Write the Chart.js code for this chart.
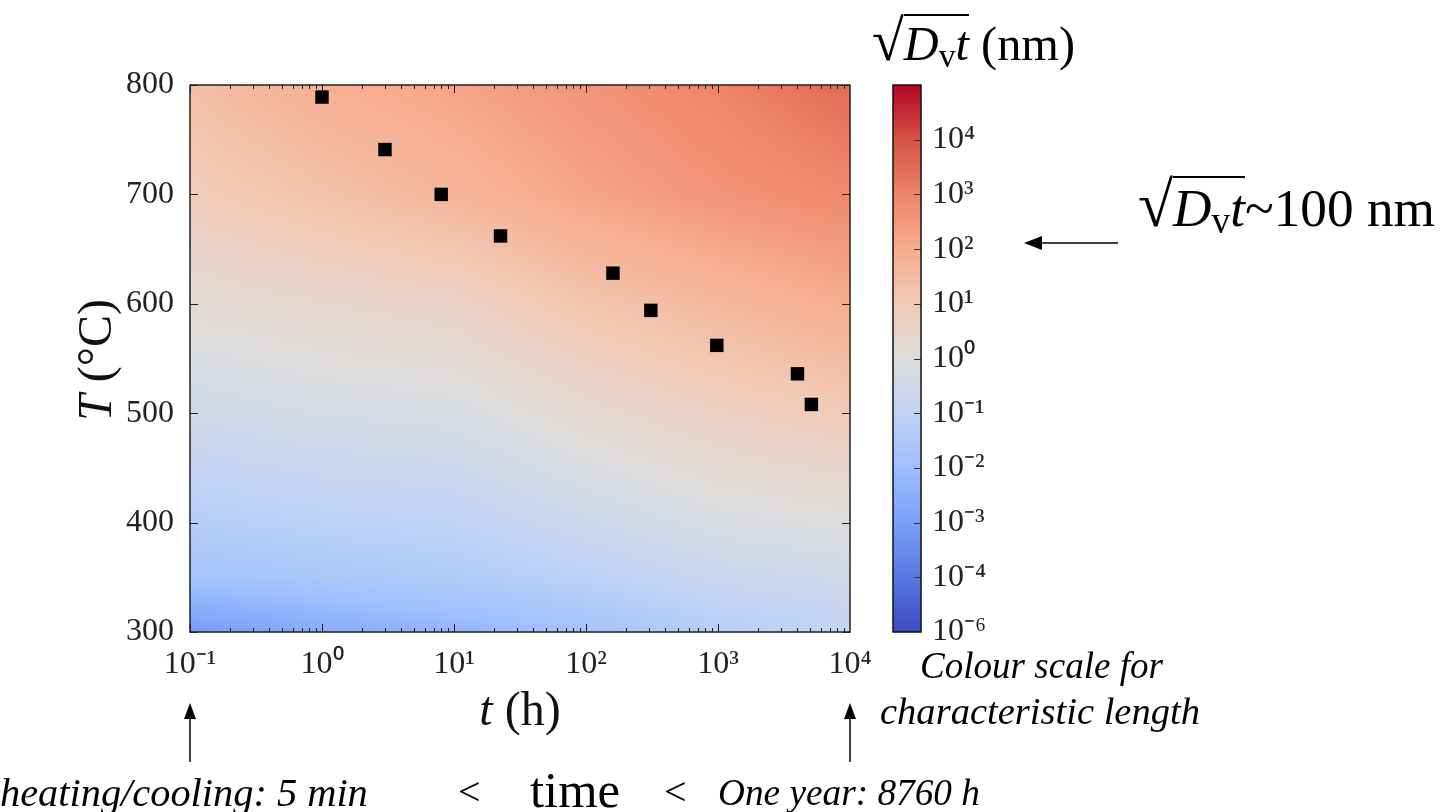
<!DOCTYPE html>
<html>
<head>
<meta charset="utf-8">
<script src="https://cdn.jsdelivr.net/npm/chart.js@4.4.0/dist/chart.umd.min.js"></script>
<style>
  html, body { margin: 0; padding: 0; background: #fff; }
  #wrap { position: relative; width: 1445px; height: 812px; overflow: hidden; }
  #main { position: absolute; left: 0; top: 0; }
  #cbar { position: absolute; left: 860px; top: 0; }
  .lbl { position: absolute; white-space: nowrap; font-family: "Liberation Serif", serif; color: #000; line-height: 1; }
  .it { font-style: italic; }
  .root { font-size: 1.2em; }
  .rad { border-top: 2px solid #000; padding-top: 1px; }
  sub { font-size: 0.7em; vertical-align: -0.2em; line-height: 0; }
</style>
</head>
<body>
<div id="wrap">
  <canvas id="main" width="1445" height="812"></canvas>
  <canvas id="cbar" width="200" height="812"></canvas>

  <div class="lbl" data-x="872" data-cy="41" data-w="203"><span class="root">√</span><span class="rad"><i>D</i><sub>v</sub><i>t</i></span> (nm)</div>
  <div class="lbl" data-x="1138" data-cy="205" data-w="297"><span class="root">√</span><span class="rad"><i>D</i><sub>v</sub><i>t</i></span>~100 nm</div>
  <div class="lbl it" data-x="920" data-cy="666" data-w="243">Colour scale for</div>
  <div class="lbl it" data-x="880" data-cy="711" data-w="320">characteristic length</div>
  <div class="lbl it" data-x="0" data-cy="793" data-w="368">heating/cooling: 5 min</div>
  <div class="lbl" data-x="458" data-cy="792" data-fs="40">&lt;</div>
  <div class="lbl" data-x="530" data-cy="790" data-w="90">time</div>
  <div class="lbl" data-x="664" data-cy="792" data-fs="40">&lt;</div>
  <div class="lbl it" data-x="718" data-cy="793" data-w="262">One year: 8760 h</div>
</div>

<script>
// annealing points
const hours = [1, 3, 8, 22.5, 160, 310, 980, 4000, 5100];
const tempsC = [789, 741, 700, 662, 628, 594, 562, 536, 508];

const xTickHours = [0.1, 1, 10, 100, 1000, 10000];
const yTickTemps = [300, 400, 500, 600, 700, 800];
const cbTickLabels = ['10⁻⁶', '10⁻⁴', '10⁻³', '10⁻²', '10⁻¹', '10⁰', '10¹', '10²', '10³', '10⁴'];

// background colour, as position on the colour bar (0 bottom .. 10 top)
const fieldHours = [0.1, 1, 10, 100, 1000, 10000];
const fieldTemps = [300, 350, 400, 500, 600, 700, 800];
const fieldLevels = [
  [1.9, 2.4, 2.7, 3.2, 3.7, 4.0],
  [3.2, 3.4, 3.6, 3.9, 4.3, 4.5],
  [3.7, 3.9, 4.0, 4.4, 4.8, 5.0],
  [4.5, 4.7, 4.8, 5.3, 5.7, 6.0],
  [5.2, 5.4, 5.6, 6.2, 6.6, 7.0],
  [5.9, 6.3, 6.7, 7.2, 7.6, 7.9],
  [6.4, 6.9, 7.2, 7.6, 8.0, 8.5]
];

// coolwarm colour map
const coolwarm = ['#3b4cc0', '#5977e3', '#7b9ff9', '#9ebeff', '#c0d4f5', '#dddcdc',
                  '#f2cbb7', '#f7ac8e', '#ee8468', '#d65244', '#b40426'].map(h => [
  parseInt(h.substr(1, 2), 16), parseInt(h.substr(3, 2), 16), parseInt(h.substr(5, 2), 16)]);

function levelColor(v) {
  let f = Math.max(0, Math.min(10, v));
  let i = Math.min(9, Math.floor(f));
  let t = f - i;
  let a = coolwarm[i], b = coolwarm[i + 1];
  return [a[0] + (b[0] - a[0]) * t, a[1] + (b[1] - a[1]) * t, a[2] + (b[2] - a[2]) * t];
}

const fieldLogs = fieldHours.map(h => Math.log10(h));
function seg(arr, v) {
  let i = 0;
  while (i < arr.length - 2 && v > arr[i + 1]) i++;
  let t = (v - arr[i]) / (arr[i + 1] - arr[i]);
  return [i, Math.max(0, Math.min(1, t))];
}
function fieldAt(lt, T) {
  const [i, u] = seg(fieldLogs, lt);
  const [j, w] = seg(fieldTemps, T);
  const r0 = fieldLevels[j], r1 = fieldLevels[j + 1];
  const a = r0[i] + (r0[i + 1] - r0[i]) * u;
  const b = r1[i] + (r1[i + 1] - r1[i]) * u;
  return a + (b - a) * w;
}

const supMap = {'-': '⁻', '0': '⁰', '1': '¹', '2': '²', '3': '³', '4': '⁴', '5': '⁵', '6': '⁶', '7': '⁷', '8': '⁸', '9': '⁹'};
function pow10Label(v) {
  const e = String(Math.round(Math.log10(v)));
  return '10' + e.split('').map(c => supMap[c]).join('');
}

const tickFont = { family: '"Liberation Serif", serif', size: 32 };

const heatmap = {
  id: 'heatmap',
  beforeDatasetsDraw(chart) {
    const { ctx, chartArea: a, scales: { x, y } } = chart;
    const left = Math.round(a.left), top = Math.round(a.top);
    const w = Math.round(a.right) - left, h = Math.round(a.bottom) - top;
    const img = ctx.createImageData(w, h);
    const logs = [];
    for (let i = 0; i < w; i++) logs.push(Math.log10(x.getValueForPixel(left + i + 0.5)));
    for (let j = 0; j < h; j++) {
      const T = y.getValueForPixel(top + j + 0.5);
      for (let i = 0; i < w; i++) {
        const c = levelColor(fieldAt(logs[i], T));
        const k = (j * w + i) * 4;
        img.data[k] = c[0]; img.data[k + 1] = c[1]; img.data[k + 2] = c[2]; img.data[k + 3] = 255;
      }
    }
    ctx.putImageData(img, left, top);
  }
};

const frame = {
  id: 'frame',
  afterDraw(chart) {
    const { ctx, chartArea: a, scales: { x, y } } = chart;
    ctx.save();
    ctx.strokeStyle = '#222';
    ctx.lineWidth = 1;
    ctx.beginPath();
    for (let d = 0; d < xTickHours.length - 1; d++) {
      for (let m = 1; m < 10; m++) {
        const px = Math.round(x.getPixelForValue(xTickHours[d] * m)) + 0.5;
        const len = m == 1 ? 8 : 4;
        ctx.moveTo(px, a.bottom); ctx.lineTo(px, a.bottom - len);
        ctx.moveTo(px, a.top); ctx.lineTo(px, a.top + len);
      }
    }
    yTickTemps.forEach(t => {
      const py = Math.round(y.getPixelForValue(t)) + 0.5;
      ctx.moveTo(a.left, py); ctx.lineTo(a.left + 8, py);
      ctx.moveTo(a.right, py); ctx.lineTo(a.right - 8, py);
    });
    ctx.stroke();
    ctx.lineWidth = 1.5;
    ctx.strokeRect(a.left, a.top, a.right - a.left, a.bottom - a.top);

    // axis titles
    ctx.fillStyle = '#111';
    ctx.textBaseline = 'middle';
    const f = '48px "Liberation Serif", serif';
    const fi = 'italic 48px "Liberation Serif", serif';
    function mixed(cx, cy) {
      ctx.font = fi; const w1 = ctx.measureText(this.a).width;
      ctx.font = f; const w2 = ctx.measureText(this.b).width;
      let sx = cx - (w1 + w2) / 2;
      ctx.font = fi; ctx.fillText(this.a, sx, cy);
      ctx.font = f; ctx.fillText(this.b, sx + w1, cy);
    }
    ctx.textAlign = 'left';
    mixed.call({ a: 't', b: ' (h)' }, (a.left + a.right) / 2, 712);
    ctx.save();
    ctx.translate(98, 360);
    ctx.rotate(-Math.PI / 2);
    mixed.call({ a: 'T', b: ' (°C)' }, 0, 0);
    ctx.restore();

    // annotation arrows
    ctx.strokeStyle = '#000';
    ctx.fillStyle = '#000';
    ctx.lineWidth = 1.5;
    function arrowUp(px) {
      ctx.beginPath(); ctx.moveTo(px, 762); ctx.lineTo(px, 715); ctx.stroke();
      ctx.beginPath(); ctx.moveTo(px, 703); ctx.lineTo(px - 6, 719); ctx.lineTo(px + 6, 719); ctx.closePath(); ctx.fill();
    }
    arrowUp(Math.round(a.left));
    arrowUp(Math.round(a.right));
    ctx.beginPath(); ctx.moveTo(1118, 243); ctx.lineTo(1040, 243); ctx.stroke();
    ctx.beginPath(); ctx.moveTo(1024, 243); ctx.lineTo(1042, 236); ctx.lineTo(1042, 250); ctx.closePath(); ctx.fill();
    ctx.restore();
  }
};

new Chart(document.getElementById('main'), {
  type: 'scatter',
  data: {
    datasets: [{
      data: hours.map((h, i) => ({ x: h, y: tempsC[i] })),
      backgroundColor: '#000',
      borderWidth: 0,
      pointStyle: 'rect',
      pointRadius: 9.5
    }]
  },
  options: {
    responsive: false,
    animation: false,
    layout: { padding: { left: 0, top: 85, right: 595, bottom: 100 } },
    plugins: { legend: { display: false }, tooltip: { enabled: false } },
    scales: {
      x: {
        type: 'logarithmic',
        min: 0.1, max: 10000,
        grid: { display: false },
        border: { display: false },
        afterBuildTicks: s => { s.ticks = xTickHours.map(v => ({ value: v, major: true })); },
        afterFit: s => { s.height = 80; s.paddingLeft = 0; s.paddingRight = 0; },
        ticks: { font: tickFont, color: '#222', padding: 5, maxRotation: 0, autoSkip: false,
                 callback: v => pow10Label(v) }
      },
      y: {
        min: 300, max: 800,
        grid: { display: false },
        border: { display: false },
        afterBuildTicks: s => { s.ticks = yTickTemps.map(v => ({ value: v })); },
        afterFit: s => { s.width = 190; s.paddingTop = 0; s.paddingBottom = 0; },
        ticks: { font: tickFont, color: '#222', padding: 8 }
      }
    }
  },
  plugins: [heatmap, frame]
});

const cbarPaint = {
  id: 'cbarPaint',
  beforeDatasetsDraw(chart) {
    const { ctx, chartArea: a, scales: { y } } = chart;
    ctx.save();
    for (let py = Math.floor(a.top); py < a.bottom; py++) {
      const c = levelColor(y.getValueForPixel(py + 0.5));
      ctx.fillStyle = 'rgb(' + c.map(Math.round).join(',') + ')';
      ctx.fillRect(a.left, py, a.right - a.left, 1);
    }
    ctx.strokeStyle = '#333';
    ctx.lineWidth = 1;
    ctx.beginPath();
    for (let v = 1; v < cbTickLabels.length; v++) {
      const py = Math.round(y.getPixelForValue(v)) + 0.5;
      ctx.moveTo(a.right, py); ctx.lineTo(a.right - 7, py);
    }
    ctx.stroke();
    ctx.strokeStyle = '#111';
    ctx.lineWidth = 1.5;
    ctx.strokeRect(a.left, a.top, a.right - a.left, a.bottom - a.top);
    ctx.restore();
  }
};

new Chart(document.getElementById('cbar'), {
  type: 'scatter',
  data: { datasets: [{ data: [] }] },
  options: {
    responsive: false,
    animation: false,
    layout: { padding: { left: 33, top: 85, right: 39, bottom: 180 } },
    plugins: { legend: { display: false }, tooltip: { enabled: false } },
    scales: {
      x: { display: false, min: 0, max: 1 },
      y: {
        position: 'right',
        min: 0, max: 10,
        grid: { display: false },
        border: { display: false },
        afterBuildTicks: s => { s.ticks = cbTickLabels.map((l, i) => ({ value: i })); },
        afterFit: s => { s.width = 100; s.paddingTop = 0; s.paddingBottom = 0; },
        ticks: { font: tickFont, color: '#222', padding: 3, callback: (v, i) => cbTickLabels[i] }
      }
    }
  },
  plugins: [cbarPaint]
});

// size and place the text around the chart
document.querySelectorAll('.lbl').forEach(el => {
  if (el.dataset.fs) {
    el.style.fontSize = el.dataset.fs + 'px';
  } else {
    el.style.fontSize = '40px';
    const w = el.getBoundingClientRect().width;
    el.style.fontSize = (40 * (+el.dataset.w) / w).toFixed(2) + 'px';
  }
  const h = el.getBoundingClientRect().height;
  el.style.left = el.dataset.x + 'px';
  el.style.top = (+el.dataset.cy - h / 2) + 'px';
});
</script>
</body>
</html>
